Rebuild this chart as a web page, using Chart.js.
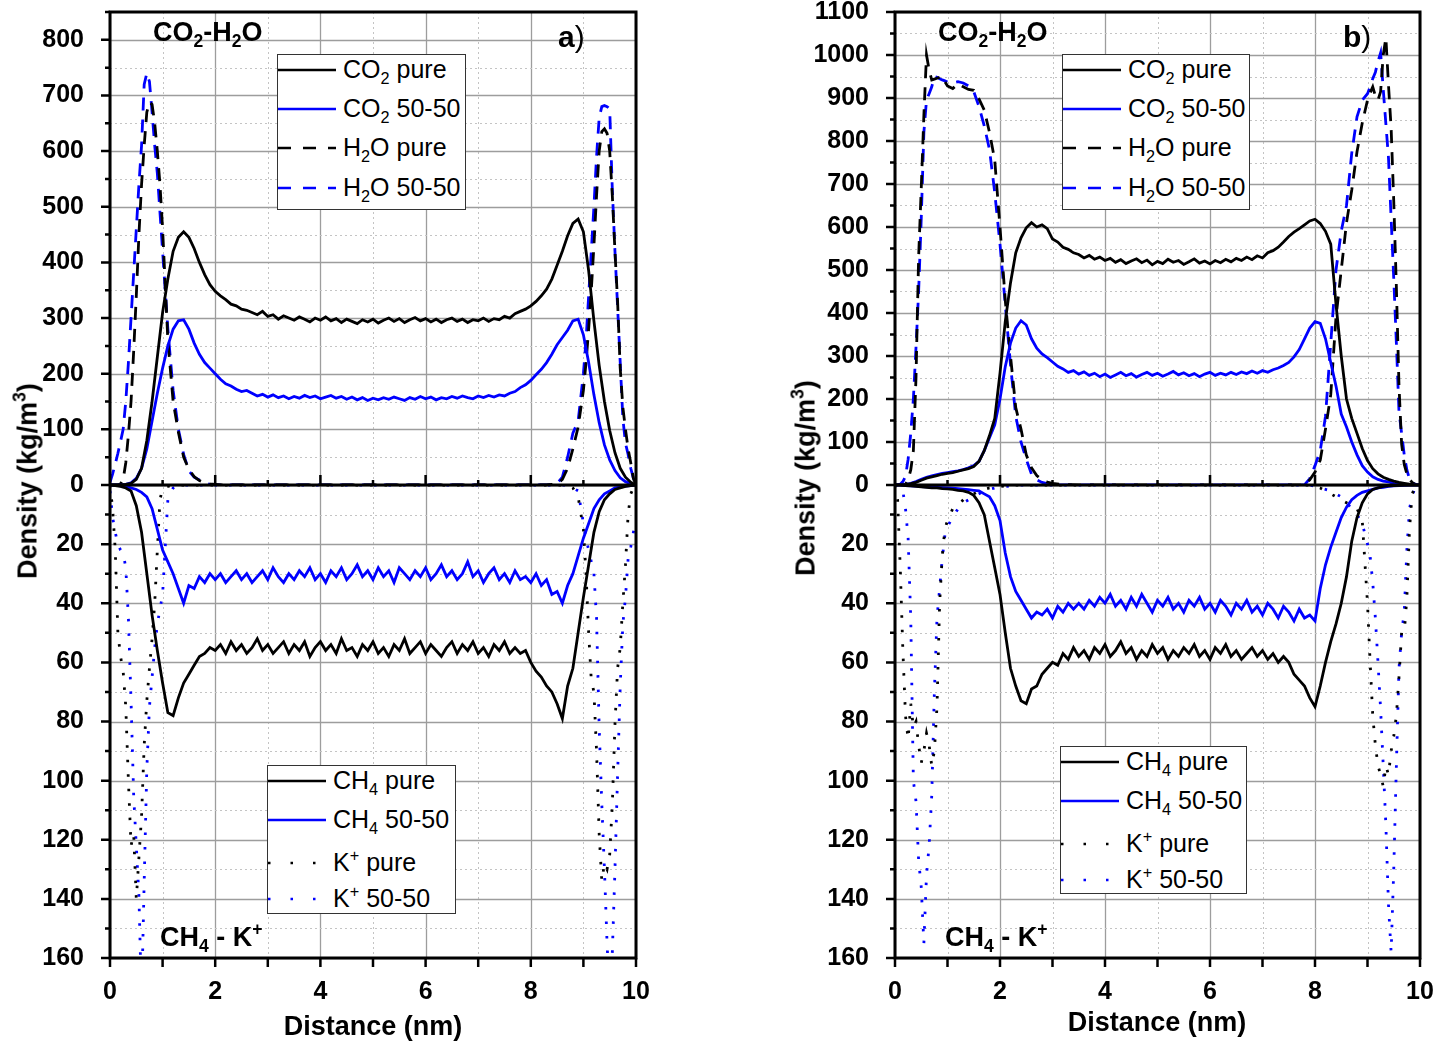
<!DOCTYPE html>
<html>
<head>
<meta charset="utf-8">
<title>Density profiles</title>
<script src="https://cdn.jsdelivr.net/npm/chart.js@4.4.1/dist/chart.umd.min.js"></script>
<style>
  body { margin: 0; background: #fff; }
  #page { position: relative; width: 1451px; height: 1046px; overflow: hidden; font-family: "Liberation Sans", Arial, sans-serif; color: #000; }
  canvas { position: absolute; top: 0; }
  .txt { position: absolute; white-space: nowrap; line-height: 1; }
  .bold { font-weight: bold; }
  .center { transform: translate(-50%, -50%); }
  .ytitle { transform: translate(-50%, -50%) rotate(-90deg); }
  sub { font-size: 0.65em; vertical-align: -0.35em; line-height: 0; }
  sup { font-size: 0.65em; vertical-align: 0.6em; line-height: 0; }
  .legend { position: absolute; border: 1px solid #333; background: #fff; box-sizing: border-box; }
  .legend .row-text { position: absolute; font-size: 25px; line-height: 25px; white-space: nowrap; }
  .legend svg { position: absolute; left: 0; }
</style>
</head>
<body>
<div id="page">
  <canvas id="chartA" width="650" height="1046" style="left:0"></canvas>
  <canvas id="chartB" width="671" height="1046" style="left:780px"></canvas>

  <div class="txt bold" style="left:153px; top:19px; font-size:27px">CO<sub>2</sub>-H<sub>2</sub>O</div>
  <div class="txt" style="left:558px; top:22px; font-size:30px"><b>a</b>)</div>
  <div class="txt bold" style="left:160px; top:924px; font-size:27px">CH<sub>4</sub> - K<sup>+</sup></div>
  <div class="txt bold ytitle" style="left:28px; top:481px; font-size:27px">Density (kg/m<sup>3</sup>)</div>
  <div class="txt bold center" style="left:373px; top:1026px; font-size:27px">Distance (nm)</div>

  <div class="txt bold" style="left:938px; top:19px; font-size:27px">CO<sub>2</sub>-H<sub>2</sub>O</div>
  <div class="txt" style="left:1343px; top:22px; font-size:30px"><b>b</b>)</div>
  <div class="txt bold" style="left:945px; top:924px; font-size:27px">CH<sub>4</sub> - K<sup>+</sup></div>
  <div class="txt bold ytitle" style="left:806px; top:478px; font-size:27px">Density (kg/m<sup>3</sup>)</div>
  <div class="txt bold center" style="left:1157px; top:1022px; font-size:27px">Distance (nm)</div>

  <div class="legend" id="legendTopA" style="left:277px; top:54px; width:189px; height:156px"></div>
  <div class="legend" id="legendBotA" style="left:267px; top:765px; width:189px; height:149px"></div>
  <div class="legend" id="legendTopB" style="left:1062px; top:54px; width:188px; height:156px"></div>
  <div class="legend" id="legendBotB" style="left:1060px; top:746px; width:187px; height:148px"></div>
</div>

<script>
// distance grid (nm) for CO2 and CH4 profiles
const distance = [
  0, 0.1, 0.2, 0.3, 0.4, 0.5, 0.6, 0.7, 0.8, 0.9,
  1, 1.1, 1.2, 1.3, 1.4, 1.5, 1.6, 1.7, 1.8, 1.9,
  2, 2.1, 2.2, 2.3, 2.4, 2.5, 2.6, 2.7, 2.8, 2.9,
  3, 3.1, 3.2, 3.3, 3.4, 3.5, 3.6, 3.7, 3.8, 3.9,
  4, 4.1, 4.2, 4.3, 4.4, 4.5, 4.6, 4.7, 4.8, 4.9,
  5, 5.1, 5.2, 5.3, 5.4, 5.5, 5.6, 5.7, 5.8, 5.9,
  6, 6.1, 6.2, 6.3, 6.4, 6.5, 6.6, 6.7, 6.8, 6.9,
  7, 7.1, 7.2, 7.3, 7.4, 7.5, 7.6, 7.7, 7.8, 7.9,
  8, 8.1, 8.2, 8.3, 8.4, 8.5, 8.6, 8.7, 8.8, 8.9,
  9, 9.1, 9.2, 9.3, 9.4, 9.5, 9.6, 9.7, 9.8, 9.9,
  10
];

// finer grid near the walls, for H2O and K+ profiles
const wallDistance = [
  0, 0.05, 0.1, 0.15, 0.2, 0.25, 0.3, 0.35, 0.4, 0.45,
  0.5, 0.55, 0.6, 0.65, 0.7, 0.75, 0.8, 0.85, 0.9, 0.95,
  1, 1.1, 1.2, 1.3, 1.4, 1.5, 1.6, 1.7, 1.8, 1.9,
  2, 2.1, 2.2, 2.3, 2.4, 2.5, 2.6, 2.7, 2.8, 2.9,
  3, 3.2, 3.5, 4, 5, 6, 7, 7.5, 7.8, 7.9,
  8, 8.1, 8.2, 8.3, 8.4, 8.5, 8.6, 8.7, 8.8, 8.9,
  9, 9.05, 9.1, 9.15, 9.2, 9.25, 9.3, 9.35, 9.4, 9.45,
  9.5, 9.55, 9.6, 9.65, 9.7, 9.75, 9.8, 9.85, 9.9, 9.95,
  10
];

// ---------- panel a ----------
const co2PureA = [
  0, 0, 0, 1, 3, 10, 30, 80, 150, 230,
  310, 370, 420, 445, 455, 445, 425, 400, 378, 360,
  348, 340, 333, 325, 322, 316, 314, 310, 306, 312,
  303, 306, 298, 304, 300, 296, 302, 298, 293, 300,
  296, 302, 295, 299, 292, 298, 294, 290, 297, 293,
  298, 291, 296, 300, 294, 299, 292, 297, 301, 295,
  299, 293, 298, 292, 297, 300, 294, 298, 292, 297,
  295, 300, 294, 299, 297, 303, 300, 308, 312, 316,
  322, 330, 340, 352, 370, 395, 420, 448, 470, 478,
  455, 385, 295, 215, 150, 98, 58, 30, 14, 5,
  0
];
const co2MixA = [
  0, 0, 0, 1, 4, 12, 30, 65, 115, 165,
  210, 250, 280, 295, 297, 280, 255, 235, 220, 210,
  200, 190, 182, 178, 172, 168, 170, 165, 160, 163,
  158, 162, 157, 160, 155, 159, 156, 161, 157, 160,
  155, 158, 161, 156, 159, 154, 158, 153, 157, 152,
  156, 153, 157, 154, 158, 155, 152, 157, 154, 159,
  155, 158, 153, 157, 155, 159, 156, 160, 157, 155,
  160, 157, 161, 158, 162, 160, 165, 168, 175, 180,
  188, 198, 208, 220, 235, 252, 265, 278, 295, 298,
  270, 220, 162, 112, 72, 45, 26, 13, 6, 2,
  0
];
const h2oPureA = [
  0, 0, 0, 0, 2, 10, 40, 90, 150, 240,
  340, 450, 540, 610, 670, 688, 684, 650, 600, 540,
  460, 260, 150, 95, 50, 28, 15, 8, 4, 2,
  1, 0, 0, 0, 0, 0, 0, 0, 0, 0,
  0, 0, 0, 0, 0, 0, 0, 0, 0, 0,
  0, 0, 0, 0, 1, 2, 10, 30, 65, 104,
  170, 220, 280, 350, 430, 520, 600, 635, 640, 632,
  600, 520, 420, 330, 210, 140, 100, 65, 40, 12,
  0
];
const h2oMixA = [
  5, 20, 38, 57, 78, 100, 150, 220, 300, 380,
  460, 540, 610, 720, 740, 725, 670, 610, 560, 490,
  420, 280, 170, 100, 55, 25, 14, 9, 4, 1,
  0, 0, 0, 0, 0, 0, 0, 0, 0, 0,
  0, 0, 0, 0, 0, 0, 0, 0, 0, 0,
  0, 0, 0, 0, 1, 3, 14, 50, 93, 115,
  200, 260, 340, 420, 500, 590, 660, 680, 682, 680,
  676, 530, 420, 320, 220, 120, 75, 55, 30, 12,
  3
];
const ch4PureA = [
  0, 0.2, 0.5, 1, 2, 7, 16, 30, 44, 56,
  67, 77, 78, 72, 67, 64, 61, 58, 57, 55,
  56, 54, 57, 53, 56, 54, 57, 55, 52, 56,
  54, 57, 55, 53, 57, 54, 56, 53, 58, 55,
  53, 56, 54, 57, 52, 56, 55, 58, 54, 56,
  53, 57, 55, 58, 54, 56, 52, 57, 55, 53,
  57, 54, 56, 58, 55, 53, 57, 54, 56, 53,
  57, 55, 58, 54, 56, 53, 57, 55, 57, 56,
  60, 63, 65, 68, 70, 74, 79, 68, 62, 50,
  38, 27, 16, 9, 5, 3, 1.5, 1, 0.5, 0.2,
  0
];
const ch4MixA = [
  0, 0.1, 0.3, 0.5, 1, 1.5, 2.5, 4, 8, 15,
  22, 26, 30, 35, 40, 34, 35, 31, 33, 30,
  32, 30, 33, 31, 29, 32, 30, 33, 31, 29,
  32, 28, 31, 33, 30, 32, 29, 31, 28, 32,
  30, 33, 29, 31, 28, 32, 30, 27, 31, 29,
  32, 28, 31, 29, 33, 28, 30, 32, 29, 31,
  28, 32, 30, 27, 31, 29, 32, 30, 26, 31,
  29, 33, 30, 28, 32, 30, 33, 29, 32, 31,
  33, 30, 34, 32, 37, 36, 40, 34, 30, 24,
  18, 13, 8, 5, 3, 2, 1, 0.7, 0.4, 0.2,
  0
];
const kPureA = [
  0, 8, 22, 50, 58, 63, 75, 100, 122, 118,
  140, 126, 112, 88, 73, 62, 52, 40, 22, 5,
  1, 0.5, 0, 0, 0, 0, 0, 0, 0, 0,
  0, 0, 0, 0, 0, 0, 0, 0, 0, 0,
  0, 0, 0, 0, 0, 0, 0, 0, 0, 0,
  0, 0, 0, 0, 0, 0, 0, 0, 1, 4,
  15, 30, 50, 66, 70, 90, 118, 134, 128, 130,
  125, 108, 81, 62, 55, 40, 27, 10, 3, 1,
  0
];
const kMixA = [
  2, 11, 16, 20, 22, 23, 28, 45, 73, 105,
  122, 139, 175, 134, 96, 75, 65, 55, 47, 42,
  37, 5, 1, 0, 0, 0, 0, 0, 0, 0,
  0, 0, 0, 0, 0, 0, 0, 0, 0, 0,
  0, 0, 0, 0, 0, 0, 0, 0, 0, 0,
  0, 0, 0, 0, 0, 0, 0, 0, 1, 2,
  13, 18, 22, 26, 30, 45, 82, 108, 130, 155,
  175, 158, 130, 98, 68, 47, 38, 25, 21, 16,
  12
];

// ---------- panel b ----------
const co2PureB = [
  0, 0, 1, 3, 6, 11, 16, 19, 22, 25,
  27, 29, 32, 35, 38, 43, 55, 80, 115, 155,
  260, 380, 470, 540, 575, 598, 610, 600, 605, 596,
  572, 565, 553, 548, 540, 536, 528, 534, 525, 530,
  522, 527, 518, 524, 515, 521, 526, 517, 523, 512,
  520, 515, 525, 518, 522, 513, 519, 526, 516, 521,
  514, 522, 517, 525, 519, 527, 522, 530, 524, 533,
  528, 540, 545, 553, 565, 578, 588, 596, 605, 614,
  618, 608, 590, 560, 420, 300, 200, 155, 120, 85,
  57, 38, 26, 18, 13, 9, 6, 4, 2, 0.5,
  0
];
const co2MixB = [
  0, 0, 1, 4, 8, 13, 18, 21, 24, 27,
  29, 31, 33, 36, 40, 45, 55, 80, 110, 140,
  200, 275, 330, 365, 382, 372, 340, 318, 305, 296,
  286, 276, 270, 262, 266, 258, 263, 255, 260, 252,
  258, 250, 256, 262, 254, 259, 251, 257, 262, 255,
  260, 253, 258, 264, 256, 261, 254, 259, 252, 258,
  262, 255, 260, 256, 262, 257, 263, 259, 265, 260,
  266, 262, 268, 272, 278, 285, 298, 315, 340, 365,
  380, 376, 340, 285, 230, 165, 135, 100, 70, 45,
  30, 19, 13, 9, 7, 4, 2, 1, 0.3, 0,
  0
];
const h2oPureB = [
  0, 0, 0, 0, 2, 12, 35, 80, 250, 530,
  690, 860, 1000, 965, 942, 944, 946, 948, 950, 938,
  928, 922, 933, 926, 920, 918, 898, 872, 820, 755,
  600, 430, 300, 180, 130, 70, 40, 22, 12, 7,
  4, 1, 0, 0, 0, 0, 0, 0, 0, 12,
  30, 58, 130, 210, 390, 500, 610, 686, 775, 842,
  895, 912, 926, 905, 895, 915, 1000, 1040, 930, 830,
  660, 460, 230, 95, 48, 26, 13, 6, 2, 0,
  0
];
const h2oMixB = [
  0, 0, 2, 8, 20, 60, 120, 200, 320, 450,
  620, 820, 895, 910, 926, 950, 948, 945, 942, 940,
  937, 935, 938, 935, 928, 915, 880, 835, 780, 680,
  560, 420, 280, 160, 100, 60, 25, 12, 6, 3,
  1, 0, 0, 0, 0, 0, 0, 0, 0, 15,
  45, 80, 160, 330, 500, 590, 650, 772, 856, 895,
  910, 926, 945, 960, 985, 1005, 920, 840, 760, 620,
  480, 330, 170, 120, 70, 35, 14, 6, 2, 0,
  0
];
const ch4PureB = [
  0, 0, 0.2, 0.3, 0.5, 0.6, 0.8, 1, 1, 1.2,
  1.3, 1.5, 1.8, 2, 2.5, 3.5, 6, 10, 19, 28,
  37, 50, 62, 68, 73, 74, 69, 68, 64, 62,
  60, 61, 57, 59, 55, 58, 56, 59, 55, 57,
  54, 58, 56, 53, 57, 55, 59, 56, 58, 54,
  57, 55, 59, 56, 58, 55, 57, 54, 58, 56,
  59, 55, 57, 54, 58, 56, 59, 57, 55, 58,
  56, 59, 57, 60, 58, 60, 64, 66, 68, 72,
  75, 68, 60, 53, 47, 40, 31, 19, 11, 6,
  3, 1.5, 1, 0.5, 0.3, 0.2, 0.1, 0, 0, 0,
  0
];
const ch4MixB = [
  0, 0, 0.2, 0.3, 0.4, 0.5, 0.6, 0.7, 0.8, 0.9,
  1, 1.1, 1.2, 1.4, 1.6, 1.8, 2, 3, 4, 7,
  12, 23, 31, 36, 39, 42, 45, 43, 44, 42,
  45, 41, 43, 40, 42, 40, 42, 39, 41, 38,
  40, 37, 41, 39, 42, 38, 41, 37, 40, 43,
  39, 41, 38, 42, 40, 43, 39, 41, 38, 42,
  40, 43, 39, 41, 44, 40, 42, 39, 43, 41,
  44, 40, 42, 45, 41, 43, 46, 42, 45, 44,
  46, 35, 27, 21, 16, 11, 7.5, 5, 3.5, 2.5,
  2, 1.5, 1, 0.8, 0.5, 0.3, 0.2, 0.1, 0, 0,
  0
];
const kPureB = [
  0, 5, 28, 56, 78, 86, 74, 82, 80, 88,
  94, 90, 84, 88, 95, 90, 75, 40, 24, 15,
  12, 8, 7, 5, 4, 3, 2, 1.5, 1, 1,
  0.5, 0.3, 0, 0, 0, 0, 0, 0, 0, 0,
  0, 0, 0, 0, 0, 0, 0, 0, 0, 0,
  0.5, 1, 2, 3, 4, 5, 6, 7, 8, 12,
  40, 60, 78, 88, 95, 98, 102, 95, 98, 90,
  85, 78, 65, 50, 50, 38, 15, 3, 1, 0,
  0
];
const kMixB = [
  0, 0, 0.5, 2, 8, 18, 45, 100, 107, 127,
  136, 155, 132, 122, 105, 70, 45, 35, 25, 17,
  14, 11, 8, 6, 5, 4, 3, 2, 1.5, 1,
  0.8, 0.5, 0.3, 0, 0, 0, 0, 0, 0, 0,
  0, 0, 0, 0, 0, 0, 0, 0, 0, 0,
  0.5, 1, 1.5, 2, 3, 4, 6, 8, 10, 13,
  20, 24, 33, 45, 60, 76, 95, 115, 142, 158,
  130, 95, 62, 50, 43, 22, 8, 4, 1, 0,
  0
];

// legend text
const topLegendLabels = ['CO<sub>2</sub> pure', 'CO<sub>2</sub> 50-50', 'H<sub>2</sub>O pure', 'H<sub>2</sub>O 50-50'];
const bottomLegendLabels = ['CH<sub>4</sub> pure', 'CH<sub>4</sub> 50-50', 'K<sup>+</sup> pure', 'K<sup>+</sup> 50-50'];

const BLACK = '#000000';
const BLUE = '#0000ff';
const SOLID = [];
const DASHED = [13, 9];
const DOTTED = [2.5, 12];

const lineStyles = [
  { color: BLACK, dash: SOLID, legendDash: '' },
  { color: BLUE, dash: SOLID, legendDash: '' },
  { color: BLACK, dash: DASHED, legendDash: '13 12' },
  { color: BLUE, dash: DASHED, legendDash: '13 12' }
];
const lowerStyles = [
  { color: BLACK, dash: SOLID, legendDash: '' },
  { color: BLUE, dash: SOLID, legendDash: '' },
  { color: BLACK, dash: DOTTED, legendDash: '2.5 20' },
  { color: BLUE, dash: DOTTED, legendDash: '2.5 20' }
];

const tickFont = { family: '"Liberation Sans", Arial, sans-serif', size: 25, weight: 'bold' };

function pairs(xs, ys) {
  return ys.map((y, i) => ({ x: xs[i], y: y }));
}

function lineSet(label, xs, ys, style, axis) {
  return {
    label: label,
    data: pairs(xs, ys),
    borderColor: style.color,
    borderWidth: 2.8,
    borderDash: style.dash,
    pointRadius: 0,
    tension: 0,
    fill: false,
    yAxisID: axis
  };
}

function gridLine(ctx, major, x1, y1, x2, y2) {
  ctx.strokeStyle = major ? '#9d9d9d' : '#c4c4c4';
  ctx.lineWidth = major ? 1.3 : 1;
  ctx.setLineDash(major ? [] : [2, 3]);
  ctx.beginPath();
  ctx.moveTo(x1, y1);
  ctx.lineTo(x2, y2);
  ctx.stroke();
}

// grid, frame, zero line and tick marks drawn from the chart's scales
const framePlugin = {
  id: 'frame',
  beforeDatasetsDraw(chart, args, opts) {
    const { ctx, chartArea: a, scales } = chart;
    ctx.save();
    scales.x.ticks.forEach(t => {
      const px = Math.round(scales.x.getPixelForValue(t.value)) + 0.5;
      gridLine(ctx, t.value % 2 === 0, px, a.top, px, a.bottom);
    });
    [['yTop', opts.topMajor], ['yBot', opts.botMajor]].forEach(([id, major]) => {
      const s = scales[id];
      s.ticks.forEach(t => {
        const py = Math.round(s.getPixelForValue(t.value)) + 0.5;
        gridLine(ctx, t.value % major === 0, a.left, py, a.right, py);
      });
    });
    ctx.restore();
  },
  afterDatasetsDraw(chart, args, opts) {
    const { ctx, chartArea: a, scales } = chart;
    const zero = scales.yTop.getPixelForValue(0);
    ctx.save();
    ctx.setLineDash([]);
    ctx.strokeStyle = '#000';
    ctx.lineWidth = 3;
    ctx.beginPath();
    ctx.moveTo(a.left, zero);
    ctx.lineTo(a.right, zero);
    ctx.stroke();
    ctx.strokeRect(a.left, a.top, a.right - a.left, a.bottom - a.top);

    ctx.lineWidth = 2.5;
    ctx.beginPath();
    scales.x.ticks.forEach(t => {
      const px = scales.x.getPixelForValue(t.value);
      ctx.moveTo(px, a.bottom);
      ctx.lineTo(px, a.bottom + 9);
      if (t.value > scales.x.min && t.value < scales.x.max) {
        const up = t.value % 2 === 0 ? 10 : 5;
        ctx.moveTo(px, zero);
        ctx.lineTo(px, zero - up);
      }
    });
    [['yTop', opts.topMajor], ['yBot', opts.botMajor]].forEach(([id, major]) => {
      const s = scales[id];
      s.ticks.forEach(t => {
        const py = s.getPixelForValue(t.value);
        const len = t.value % major === 0 ? 9 : 5;
        ctx.moveTo(a.left - len, py);
        ctx.lineTo(a.left, py);
      });
    });
    ctx.stroke();
    ctx.restore();
  }
};

function makePanel(p) {
  const datasets = [
    lineSet('CO2 pure', distance, p.co2Pure, lineStyles[0], 'yTop'),
    lineSet('CO2 50-50', distance, p.co2Mix, lineStyles[1], 'yTop'),
    lineSet('H2O pure', wallDistance, p.h2oPure, lineStyles[2], 'yTop'),
    lineSet('H2O 50-50', wallDistance, p.h2oMix, lineStyles[3], 'yTop'),
    lineSet('CH4 pure', distance, p.ch4Pure, lowerStyles[0], 'yBot'),
    lineSet('CH4 50-50', distance, p.ch4Mix, lowerStyles[1], 'yBot'),
    lineSet('K+ pure', wallDistance, p.kPure, lowerStyles[2], 'yBot'),
    lineSet('K+ 50-50', wallDistance, p.kMix, lowerStyles[3], 'yBot')
  ];

  new Chart(document.getElementById(p.canvas), {
    type: 'line',
    data: { datasets: datasets },
    plugins: [framePlugin],
    options: {
      responsive: false,
      animation: false,
      devicePixelRatio: 1,
      layout: { padding: { left: 0, right: p.padRight, top: 12, bottom: 0 } },
      plugins: {
        legend: { display: false },
        tooltip: { enabled: false },
        frame: { topMajor: 100, botMajor: 20 }
      },
      scales: {
        x: {
          type: 'linear',
          position: 'bottom',
          min: 0,
          max: 10,
          grid: { display: false },
          border: { display: false },
          ticks: {
            stepSize: 1,
            autoSkip: false,
            maxRotation: 0,
            padding: 11,
            color: '#000',
            font: tickFont,
            callback: v => (v % 2 === 0 ? v : '')
          },
          afterFit: s => { s.height = 88; s.paddingLeft = 0; s.paddingRight = 0; }
        },
        yTop: {
          type: 'linear',
          position: 'left',
          stack: 'density',
          stackWeight: 1,
          weight: 2,
          min: 0,
          max: p.topMax,
          grid: { display: false },
          border: { display: false },
          ticks: {
            stepSize: 50,
            autoSkip: false,
            padding: 18,
            color: '#000',
            font: tickFont,
            callback: v => (v % 100 === 0 ? v : '')
          },
          afterFit: s => { s.width = p.axisWidth; s.paddingTop = 0; s.paddingBottom = 0; }
        },
        yBot: {
          type: 'linear',
          position: 'left',
          stack: 'density',
          stackWeight: 1,
          weight: 1,
          reverse: true,
          min: 0,
          max: 160,
          grid: { display: false },
          border: { display: false },
          ticks: {
            stepSize: 10,
            autoSkip: false,
            padding: 18,
            color: '#000',
            font: tickFont,
            callback: v => (v % 20 === 0 && v !== 0 ? v : '')
          },
          afterFit: s => { s.width = p.axisWidth; s.paddingTop = 0; s.paddingBottom = 0; }
        }
      }
    }
  });
}

function buildLegend(id, labels, styles, rows) {
  const svgNS = 'http://www.w3.org/2000/svg';
  const box = document.getElementById(id);
  labels.forEach((html, i) => {
    const y = rows[i];
    const svg = document.createElementNS(svgNS, 'svg');
    svg.setAttribute('width', 58);
    svg.setAttribute('height', 10);
    svg.style.top = (y - 5) + 'px';
    const line = document.createElementNS(svgNS, 'line');
    line.setAttribute('x1', 0);
    line.setAttribute('y1', 5);
    line.setAttribute('x2', 58);
    line.setAttribute('y2', 5);
    line.setAttribute('stroke', styles[i].color);
    line.setAttribute('stroke-width', 2.5);
    if (styles[i].legendDash) line.setAttribute('stroke-dasharray', styles[i].legendDash);
    svg.appendChild(line);
    box.appendChild(svg);

    const text = document.createElement('div');
    text.className = 'row-text';
    text.style.left = '65px';
    text.style.top = (y - 13) + 'px';
    text.innerHTML = html;
    box.appendChild(text);
  });
}

makePanel({
  canvas: 'chartA', axisWidth: 110, padRight: 14, topMax: 850,
  co2Pure: co2PureA, co2Mix: co2MixA, h2oPure: h2oPureA, h2oMix: h2oMixA,
  ch4Pure: ch4PureA, ch4Mix: ch4MixA, kPure: kPureA, kMix: kMixA
});
makePanel({
  canvas: 'chartB', axisWidth: 115, padRight: 31, topMax: 1100,
  co2Pure: co2PureB, co2Mix: co2MixB, h2oPure: h2oPureB, h2oMix: h2oMixB,
  ch4Pure: ch4PureB, ch4Mix: ch4MixB, kPure: kPureB, kMix: kMixB
});

buildLegend('legendTopA', topLegendLabels, lineStyles, [15, 54, 93, 133]);
buildLegend('legendBotA', bottomLegendLabels, lowerStyles, [15, 54, 97, 133]);
buildLegend('legendTopB', topLegendLabels, lineStyles, [15, 54, 93, 133]);
buildLegend('legendBotB', bottomLegendLabels, lowerStyles, [15, 54, 97, 133]);
</script>
</body>
</html>
